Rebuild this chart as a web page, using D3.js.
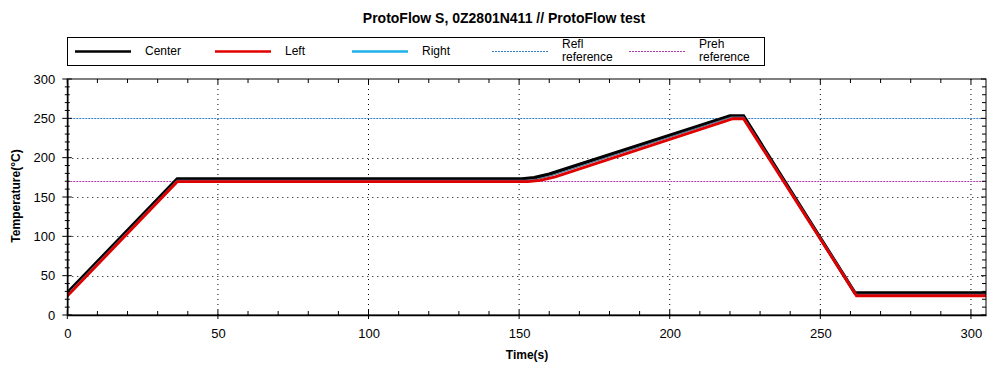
<!DOCTYPE html>
<html><head><meta charset="utf-8">
<script src="https://cdn.jsdelivr.net/npm/d3@7"></script>
<style>
body{margin:0;background:#fff;}
svg{display:block;font-family:"Liberation Sans",Arial,sans-serif;}
</style></head>
<body><svg id="c" width="1008" height="372"></svg>
<script>
const title = "ProtoFlow S, 0Z2801N411 // ProtoFlow test";
const xLabel = "Time(s)";
const yLabel = "Temperature(°C)";
const xTicks = [0,50,100,150,200,250,300];
const yTicks = [0,50,100,150,200,250,300];
const xDomain = [0,305];
const yDomain = [0,300];

// [time, temperature]
const centerSeries = [[0,28],[36.5,173],[151,173],[155,174.5],[160,179],[220,253],[224.5,253],[261.5,28],[305,28]];
const rightSeries  = [[0,26],[36.5,171],[152,171],[156,172.5],[161,177.5],[220.5,251.5],[224.5,251.5],[262,26],[305,26]];
const leftSeries   = [[0,24],[36.5,169.5],[153,169.5],[157,171],[162,175.5],[221,249.5],[224.5,249.5],[262,24.5],[305,24.5]];
const reflReference = 250;
const prehReference = 170;
const legendNames = ["Center","Left","Right","Refl\nreference","Preh\nreference"];

const svg = d3.select("#c");
const L=67.3, R=986, T=79, B=315;
const x = d3.scaleLinear().domain(xDomain).range([L,R]);
const y = d3.scaleLinear().domain(yDomain).range([B,T]);

// title
svg.append("text").attr("x",504).attr("y",23).attr("text-anchor","middle")
  .attr("font-weight","bold").attr("font-size",14).text(title);

// legend
const lg = svg.append("g");
lg.append("rect").attr("x",67.5).attr("y",37.5).attr("width",697).attr("height",28)
  .attr("fill","#fff").attr("stroke","#000");
const reflColor="#2f80c8", prehColor="#b03aa8";
const legendStyles = [
  {c:"#000",w:2.5,d:null},{c:"#e00000",w:2.5,d:null},{c:"#1eb0e8",w:2.5,d:null},
  {c:reflColor,w:1,d:"2,1"},{c:prehColor,w:1,d:"2,1"}];
const lgX = [75,215,352,492,629];
legendNames.forEach((n,i)=>{
  const s=legendStyles[i];
  lg.append("line").attr("x1",lgX[i]).attr("x2",lgX[i]+56).attr("y1",51.5).attr("y2",51.5)
    .attr("stroke",s.c).attr("stroke-width",s.w).attr("stroke-dasharray",s.d);
  const parts=n.split("\n");
  const t=lg.append("text").attr("x",lgX[i]+70).attr("font-size",12);
  if(parts.length===1){t.attr("y",55).text(parts[0]);}
  else{
    t.append("tspan").attr("x",lgX[i]+70).attr("y",48).text(parts[0]);
    t.append("tspan").attr("x",lgX[i]+70).attr("y",61).text(parts[1]);
  }
});

// grid
const g = svg.append("g");
xTicks.filter(v=>v>0).forEach(v=>{
  g.append("line").attr("x1",x(v)).attr("x2",x(v)).attr("y1",T).attr("y2",B)
   .attr("stroke","#000").attr("stroke-width",1).attr("stroke-dasharray","1,4");
});
yTicks.filter(v=>v>0&&v<300&&v!==reflReference).forEach(v=>{
  g.append("line").attr("x1",L).attr("x2",R).attr("y1",Math.round(y(v))+0.5).attr("y2",Math.round(y(v))+0.5)
   .attr("stroke","#000").attr("stroke-width",1).attr("stroke-dasharray","1,4");
});
// reference lines
g.append("line").attr("x1",L).attr("x2",R).attr("y1",Math.round(y(reflReference))+0.5).attr("y2",Math.round(y(reflReference))+0.5)
  .attr("stroke",reflColor).attr("stroke-width",1).attr("stroke-dasharray","2,1");
g.append("line").attr("x1",L).attr("x2",R).attr("y1",Math.round(y(prehReference))+0.5).attr("y2",Math.round(y(prehReference))+0.5)
  .attr("stroke",prehColor).attr("stroke-width",1).attr("stroke-dasharray","2,1");

// data lines
const line = d3.line().x(d=>x(d[0])).y(d=>y(d[1]));
svg.append("clipPath").attr("id","pc").append("rect").attr("x",L).attr("y",T).attr("width",R-L).attr("height",B-T);
const dl = svg.append("g").attr("clip-path","url(#pc)");
dl.append("path").datum(centerSeries).attr("d",line).attr("fill","none").attr("stroke","#000").attr("stroke-width",3.4);
dl.append("path").datum(rightSeries).attr("d",line).attr("fill","none").attr("stroke","#5a7a9a").attr("stroke-width",1.5);
dl.append("path").datum(leftSeries).attr("d",line).attr("fill","none").attr("stroke","#e00000").attr("stroke-width",2.8);

// frame
svg.append("rect").attr("x",L).attr("y",T).attr("width",R-L).attr("height",B-T)
  .attr("fill","none").attr("stroke","#000").attr("stroke-width",1);

// axes
const xMinor = d3.range(0,xDomain[1]+0.01,10);
const yMinor = d3.range(0,301,10);
const xa = svg.append("g").attr("transform",`translate(0,${B})`);
xa.call(d3.axisBottom(x).tickValues(xMinor).tickSize(0).tickFormat(""));
xa.select(".domain").attr("stroke-width",1.5);
xMinor.forEach(v=>{
  const major = xTicks.includes(v);
  xa.append("line").attr("x1",x(v)).attr("x2",x(v)).attr("y1",major?-5:-4).attr("y2",major?4:0).attr("stroke","#000");
  svg.append("line").attr("x1",x(v)).attr("x2",x(v)).attr("y1",T).attr("y2",T+(major?5:4)).attr("stroke","#000");
});
const xl = svg.append("g").attr("transform",`translate(0,${B})`)
  .call(d3.axisBottom(x).tickValues(xTicks).tickSize(0).tickPadding(14).tickFormat(d3.format("d")));
xl.select(".domain").remove();
xl.selectAll("text").attr("font-size",13).attr("font-family","Liberation Sans, Arial, sans-serif").attr("fill","#000");

const ya = svg.append("g").attr("transform",`translate(${L},0)`);
ya.call(d3.axisLeft(y).tickValues(yMinor).tickSize(0).tickFormat(""));
ya.select(".domain").attr("stroke-width",1.5);
yMinor.forEach(v=>{
  const major = yTicks.includes(v);
  ya.append("line").attr("y1",y(v)).attr("y2",y(v)).attr("x1",major?-5:-2.5).attr("x2",major?4.5:2.5).attr("stroke","#000");
  svg.append("line").attr("y1",y(v)).attr("y2",y(v)).attr("x1",R).attr("x2",R-(major?5:4)).attr("stroke","#000");
});
const yl = svg.append("g").attr("transform",`translate(${L},0)`)
  .call(d3.axisLeft(y).tickValues(yTicks).tickSize(0).tickPadding(12).tickFormat(d3.format("d")));
yl.select(".domain").remove();
yl.selectAll("text").attr("font-size",13).attr("font-family","Liberation Sans, Arial, sans-serif").attr("fill","#000");

// axis labels
svg.append("text").attr("x",527).attr("y",359).attr("text-anchor","middle")
  .attr("font-weight","bold").attr("font-size",12).text(xLabel);
svg.append("text").attr("transform","translate(20,196) rotate(-90)").attr("text-anchor","middle")
  .attr("font-weight","bold").attr("font-size",12).text(yLabel);
</script></body></html>
